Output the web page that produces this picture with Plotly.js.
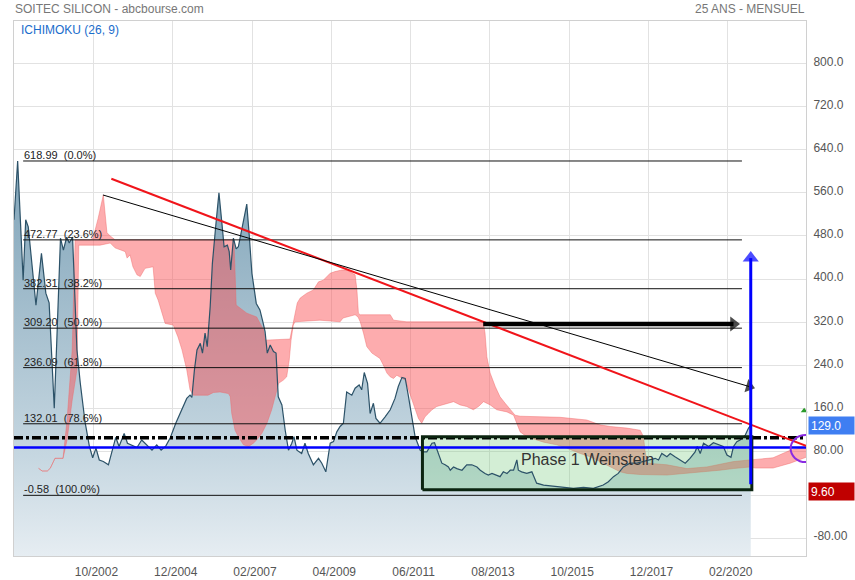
<!DOCTYPE html>
<html><head><meta charset="utf-8">
<script src="https://cdn.plot.ly/plotly-3.0.1.min.js"></script>
<style>html,body{margin:0;padding:0;background:#fff;}#chart{width:855px;height:580px;}</style>
</head><body><div id="chart"></div>
<script>
// ---- Data (x in decimal years) ----
const priceX = [2000.58,2000.68,2000.83,2000.90,2000.97,2001.18,2001.33,2001.45,2001.54,2001.635,2001.68,2001.75,2001.85,2001.93,2002.02,2002.09,2002.18,2002.30,2002.39,2002.52,2002.64,2002.73,2002.82,2002.91,2003.02,2003.16,2003.30,2003.36,2003.45,2003.59,2003.68,2003.94,2004.07,2004.21,2004.35,2004.48,2004.60,2004.73,2004.85,2005.00,2005.17,2005.30,2005.39,2005.44,2005.51,2005.58,2005.67,2005.73,2005.80,2005.86,2005.94,2006.00,2006.09,2006.18,2006.27,2006.32,2006.41,2006.46,2006.50,2006.575,2006.65,2006.71,2006.80,2006.94,2007.01,2007.08,2007.20,2007.30,2007.39,2007.44,2007.50,2007.58,2007.67,2007.74,2007.80,2007.90,2007.99,2008.08,2008.17,2008.23,2008.31,2008.44,2008.53,2008.62,2008.76,2008.90,2008.99,2009.10,2009.22,2009.31,2009.40,2009.49,2009.58,2009.67,2009.81,2009.90,2010.01,2010.08,2010.15,2010.24,2010.31,2010.40,2010.47,2010.58,2010.72,2010.86,2010.99,2011.08,2011.18,2011.27,2011.36,2011.45,2011.54,2011.68,2011.77,2011.86,2012.00,2012.07,2012.18,2012.27,2012.36,2012.45,2012.50,2012.59,2012.68,2012.82,2012.95,2013.09,2013.23,2013.32,2013.45,2013.54,2013.64,2013.73,2013.86,2013.95,2014.05,2014.14,2014.23,2014.32,2014.36,2014.45,2014.59,2014.73,2014.86,2015.05,2015.32,2015.59,2015.865,2016.14,2016.41,2016.68,2016.82,2016.96,2017.09,2017.23,2017.41,2017.60,2017.78,2017.96,2018.10,2018.19,2018.28,2018.42,2018.51,2018.64,2018.78,2018.92,2019.05,2019.19,2019.25,2019.33,2019.42,2019.56,2019.69,2019.83,2019.96,2020.06,2020.17,2020.24,2020.33,2020.42,2020.56,2020.65,2020.71];
const priceY = [510,619,398,510,497,352,448,374,356,213,161,287,476,454,478,467,478,269,208,136,90,69,87,65,62,56,90,107,90,114,96,88,102,93,83,93,83,91,106,133,158,179,185,181,232,269,281,263,300,275,349,429,497,560,497,460,463,451,417,476,456,460,491,539,479,411,355,343,318,303,263,278,266,263,182,167,120,83,96,108,83,77,96,77,56,68,59,43,96,99,117,127,133,191,185,198,204,195,227,207,151,170,142,133,145,158,179,201,218,216,182,142,108,83,80,80,96,97,77,59,56,52,46,52,49,46,56,56,52,46,40,37,40,37,34,43,40,46,46,65,46,43,40,43,22,18.5,16.7,14.3,12.4,14.3,12.4,18.5,24.6,34,40,52,59,59,62,65,68,65,77,71,77,71,65,59,68,80,90,77,96,90,97,93,90,74,70,90,99,102,111,124,129];

// Ichimoku cloud: upper and lower edges
const cloudUpX = [2001.25,2001.35,2001.49,2001.57,2001.70,2001.92,2002.03,2002.17,2002.25,2002.66,2002.74,2002.88,2003.02,2003.12,2003.21,2003.34,2006.59,2006.65,2006.94,2007.21,2007.40,2007.44,2008.12,2008.26,2008.32,2008.40,2008.58,2008.76,2008.90,2009.03,2009.22,2009.35,2009.54,2009.67,2009.81,2009.90,2009.95,2009.99,2010.04,2010.86,2010.95,2011.31,2013.40,2013.45,2013.50,2013.59,2013.73,2013.86,2014.00,2014.14,2014.27,2014.41,2014.76,2015.50,2016.23,2016.59,2016.87,2017.33,2017.69,2017.78,2017.82,2017.88,2018.42,2018.97,2019.51,2020.24,2020.69,2020.88,2021.32,2021.79,2022.22];
const cloudUpY = [49.5,44.5,44.5,49.5,68,68,139,269,473,473,476,513,556,486,480,473,473,352,337,330,306,287,289,337,356,365,374,380,395,398,411,414,417,417,411,408,380,337,334,334,324,321,321,300,256,226,201,182,170,158,148,146,145,144,139,130,127,124,120,108,83,59,56,49,52,62,65,66,69,83,89];
const cloudLoX = [2001.25,2001.35,2001.49,2001.57,2001.70,2001.92,2002.03,2002.17,2002.30,2002.35,2002.93,2003.21,2003.34,2003.48,2003.62,2003.67,2003.75,2003.83,2003.94,2004.03,2004.16,2004.38,2004.44,2004.52,2004.71,2004.93,2005.06,2005.17,2005.30,2005.39,2005.48,2005.88,2006.03,2006.21,2006.44,2006.49,2006.53,2006.62,2006.71,2006.85,2006.99,2007.12,2007.21,2007.35,2007.49,2007.62,2007.71,2007.81,2007.94,2008.03,2008.10,2008.15,2008.21,2008.26,2008.94,2009.49,2009.57,2009.67,2009.90,2009.98,2010.04,2010.13,2010.22,2010.36,2010.58,2010.67,2010.77,2010.86,2010.95,2011.04,2011.27,2011.36,2011.45,2011.54,2011.63,2011.72,2011.81,2011.90,2012.00,2012.13,2012.31,2012.59,2012.77,2012.95,2013.13,2013.27,2013.41,2013.59,2013.77,2014.05,2014.23,2014.32,2014.41,2014.59,2015.05,2015.41,2015.68,2016.05,2016.32,2016.59,2016.95,2017.14,2017.33,2017.69,2018.42,2018.97,2019.33,2019.87,2020.23,2020.69,2020.83,2021.32,2021.79,2022.22];
const cloudLoY = [49.5,44.5,44.5,49.5,68,68,102,176,232,463,463,467,458,454,451,439,445,423,408,405,420,423,374,361,318,315,293,269,232,195,185,185,190,191,188,182,151,120,108,93,90,96,102,114,133,158,182,207,213,219,250,287,315,321,324,321,328,330,334,330,321,300,275,263,253,241,226,219,216,222,213,195,176,158,142,133,145,151,158,164,167,173,167,164,158,164,173,167,158,154,148,133,117,108,98,93,87,77,71,62,50,43,40,38,37,40,43,46,49,52,50,50,59,70];

// Fibonacci retracement levels
const fibLevels = [618.99, 472.77, 382.31, 309.20, 236.09, 132.01, -0.58];
const fibLabels = ['618.99&nbsp; (0.0%)','472.77&nbsp; (23.6%)','382.31&nbsp; (38.2%)','309.20&nbsp; (50.0%)','236.09&nbsp; (61.8%)','132.01&nbsp; (78.6%)','-0.58&nbsp; (100.0%)'];
const fibSpan = [2000.83, 2020.47];

// Drawn objects (arrow segments end at the centre of their heads)
const redTrendX = [2003.24, 2022.22], redTrendY = [586, 91];
const blackTrendX = [2003.01, 2020.67], blackTrendY = [556, 201];
const hArrowX = [2013.40, 2020.24], hArrowY = [317, 317];
const vArrowX = [2020.71, 2020.71], vArrowY = [20, 439];
const dashLevel = 106, blueLevel = 88;
const boxX = [2011.74, 2020.74], boxY = [9.6, 108];
const boxLabel = 'Phase 1 Weinstein', boxLabelPos = [2016.24, 66.7];
const ellipse = [2021.80, 2022.62, 61, 111];
const signalPoint = [2022.17, 156];
const lastPrice = 129.0, lowLevel = 9.60;

const xTickVals = [2002.75, 2004.917, 2007.083, 2009.25, 2011.417, 2013.583, 2015.75, 2017.917, 2020.083];
const xTickText = ['10/2002','12/2004','02/2007','04/2009','06/2011','08/2013','10/2015','12/2017','02/2020'];
const yTickVals = [800,720,640,560,480,400,320,240,160,80,0,-80];
const yTickText = ['800.0','720.0','640.0','560.0','480.0','400.0','320.0','240.0','160.0','80.00','','-80.00'];

const xRange = [2000.58, 2022.22], yRange = [-113, 878.4];

// ---- Traces ----
const traces = [];
const boxPathX = [boxX[0],boxX[1],boxX[1],boxX[0],boxX[0]];
const boxPathY = [boxY[0],boxY[0],boxY[1],boxY[1],boxY[0]];
traces.push({x:[priceX[0], priceX[priceX.length-1]], y:[yRange[0], yRange[0]], mode:'lines', line:{width:0}, hoverinfo:'skip'});
traces.push({x:priceX, y:priceY, mode:'lines', line:{width:0}, fill:'tonexty', fillcolor:'#b9cdd9',
  fillgradient:{type:'vertical', start:yRange[0], stop:620, colorscale:[[0,'#e6edf2'],[0.25,'#c6d7e1'],[0.6,'#a5bfce'],[1,'#7fa3b8']]}, hoverinfo:'skip'});
traces.push({x:cloudUpX, y:cloudUpY, mode:'lines', line:{width:0.8, color:'rgba(240,100,100,0.55)'}, hoverinfo:'skip'});
traces.push({x:cloudLoX, y:cloudLoY, mode:'lines', line:{width:0.8, color:'rgba(240,100,100,0.55)'}, fill:'tonexty', fillcolor:'rgba(250,82,86,0.48)', hoverinfo:'skip'});
traces.push({x:boxPathX, y:boxPathY, mode:'lines', line:{width:0}, fill:'toself', fillcolor:'rgba(110,200,115,0.3)', hoverinfo:'skip'});
traces.push({x:priceX, y:priceY, mode:'lines', line:{width:1.2, color:'#2c5268'}, hoverinfo:'skip'});
fibLevels.forEach(l => traces.push({x:fibSpan, y:[l,l], mode:'lines', line:{width:1, color:'#111'}, hoverinfo:'skip'}));
traces.push({x:xRange, y:[blueLevel,blueLevel], mode:'lines', line:{width:2.5, color:'#0000ff'}, hoverinfo:'skip'});
traces.push({x:xRange, y:[dashLevel,dashLevel], mode:'lines', line:{width:3.5, color:'#000', dash:'9px,3px,3px,3px'}, hoverinfo:'skip'});
traces.push({x:boxPathX, y:boxPathY, mode:'lines', line:{width:3, color:'#0b2410'}, hoverinfo:'skip'});
traces.push({x:redTrendX, y:redTrendY, mode:'lines', line:{width:2, color:'#f0141a'}, hoverinfo:'skip'});
traces.push({x:blackTrendX, y:blackTrendY, mode:'lines+markers', line:{width:1, color:'#000'}, marker:{symbol:'triangle-up', angleref:'previous', size:[0,12], color:'#000', line:{width:0}}, hoverinfo:'skip'});
traces.push({x:hArrowX, y:hArrowY, mode:'lines+markers', line:{width:4.5, color:'#000'}, marker:{symbol:'triangle-up', angleref:'previous', size:[0,13], color:'#000', line:{width:0}}, hoverinfo:'skip'});
traces.push({x:vArrowX, y:vArrowY, mode:'lines+markers', line:{width:3, color:'#0000ff'}, marker:{symbol:'triangle-up', angleref:'previous', size:[0,14], color:'#0000ff', line:{width:0}}, hoverinfo:'skip'});
traces.push({x:[signalPoint[0]], y:[signalPoint[1]], mode:'markers', marker:{symbol:'triangle-up', size:6, color:'#2a9a2a'}, cliponaxis:false, hoverinfo:'skip'});

const FONT = 'Liberation Sans, Arial, Helvetica, sans-serif';
const annotations = [];
fibLevels.forEach((l,i) => annotations.push({x:fibSpan[0], y:l, xref:'x', yref:'y', text:fibLabels[i], showarrow:false, xanchor:'left', yanchor:'middle', yshift:6, xshift:-1, font:{size:11, color:'#222', family:FONT}}));
annotations.push({x:boxLabelPos[0], y:boxLabelPos[1], xref:'x', yref:'y', text:boxLabel, showarrow:false, font:{size:16, color:'#333', family:FONT}});
annotations.push({x:0, y:1, xref:'paper', yref:'paper', text:'SOITEC SILICON - abcbourse.com', showarrow:false, xanchor:'left', yanchor:'middle', xshift:-1, yshift:12.5, font:{size:12, color:'#777', family:FONT}});
annotations.push({x:1, y:1, xref:'paper', yref:'paper', text:'25 ANS - MENSUEL', showarrow:false, xanchor:'right', yanchor:'middle', xshift:1, yshift:12.5, font:{size:12, color:'#777', family:FONT}});
annotations.push({x:0, y:1, xref:'paper', yref:'paper', text:'ICHIMOKU (26, 9)', showarrow:false, xanchor:'left', yanchor:'middle', xshift:5, yshift:-8.5, font:{size:12, color:'#1a6dcc', family:FONT}});
annotations.push({x:1, y:lastPrice, xref:'paper', yref:'y', text:lastPrice.toFixed(1), showarrow:false, xanchor:'left', yanchor:'middle', xshift:1.5, align:'left', width:41, height:13, borderpad:2, bgcolor:'#3f7ef2', font:{size:12, color:'#fff', family:FONT}});
annotations.push({x:1, y:lowLevel, xref:'paper', yref:'y', text:lowLevel.toFixed(2), showarrow:false, xanchor:'left', yanchor:'middle', xshift:1.5, yshift:-2, align:'left', width:41, height:13, borderpad:2, bgcolor:'#c00000', font:{size:12, color:'#fff', family:FONT}});

const layout = {
  width:855, height:580,
  margin:{l:14, r:49, t:21, b:24, pad:0},
  paper_bgcolor:'#fff', plot_bgcolor:'#fff',
  showlegend:false,
  font:{family:FONT, size:12, color:'#555'},
  xaxis:{range:xRange, tickvals:xTickVals, ticktext:xTickText, showgrid:true, gridcolor:'#e2e2e2', zeroline:false,
    showline:true, linecolor:'#d0d0d0', mirror:true, ticks:'', ticklabelshift:3, ticklabelstandoff:5, tickfont:{size:12, color:'#555'}, fixedrange:true},
  yaxis:{range:yRange, side:'right', tickvals:yTickVals, ticktext:yTickText, showgrid:true, gridcolor:'#e2e2e2', zeroline:false,
    showline:true, linecolor:'#d0d0d0', mirror:true, ticks:'', ticklabelstandoff:4, ticklabelshift:-2, tickfont:{size:12, color:'#555'}, fixedrange:true},
  shapes:[{type:'circle', xref:'x', yref:'y', x0:ellipse[0], x1:ellipse[1], y0:ellipse[2], y1:ellipse[3], line:{color:'#8a2be2', width:2}, fillcolor:'rgba(0,0,0,0)'}],
  annotations:annotations
};

Plotly.newPlot('chart', traces, layout, {displayModeBar:false, staticPlot:true});
</script></body></html>
